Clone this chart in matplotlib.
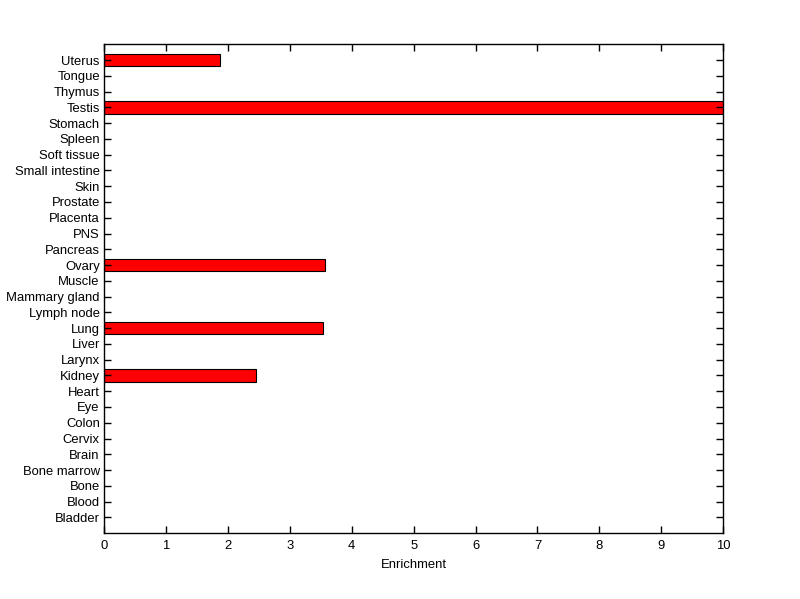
import numpy as np
import matplotlib.pyplot as plt

plt.rcParams['font.family'] = ['Liberation Sans', 'DejaVu Sans']

# Tejidos (de abajo hacia arriba)
tejidos = ["Bladder", "Blood", "Bone", "Bone marrow", "Brain", "Cervix", "Colon",
           "Eye", "Heart", "Kidney", "Larynx", "Liver", "Lung", "Lymph node",
           "Mammary gland", "Muscle", "Ovary", "Pancreas", "PNS", "Placenta",
           "Prostate", "Skin", "Small intestine", "Soft tissue", "Spleen",
           "Stomach", "Testis", "Thymus", "Tongue", "Uterus"]
enriquecimiento = [0, 0, 0, 0, 0, 0, 0,
                   0, 0, 2.45, 0, 0, 3.53, 0,
                   0, 0, 3.57, 0, 0, 0,
                   0, 0, 0, 0, 0,
                   0, 10.5, 0, 0, 1.87]

pos = np.arange(1, len(tejidos) + 1)

fig = plt.figure(figsize=(8, 5.99), dpi=100)
ax = fig.add_axes([0.13, 0.11, 0.774, 0.816])

valores = np.array(enriquecimiento)
mask = valores > 0
ax.barh(pos[mask], valores[mask], height=0.8, color="red", edgecolor="black", linewidth=0.8)

ax.set_xlim(0, 10)
ax.set_ylim(0, len(tejidos) + 1)
ax.set_xticks(range(0, 11))
ax.set_yticks(pos)
ax.set_yticklabels(tejidos)
ax.set_xlabel("Enrichment", fontsize=9.4, labelpad=5)
ax.tick_params(direction="in", length=5, width=1, labelsize=9.4, top=True, right=True, pad=3)
ax.tick_params(axis="x", pad=5)
for s in ax.spines.values():
    s.set_linewidth(1)

plt.savefig("out.png", dpi=100)
